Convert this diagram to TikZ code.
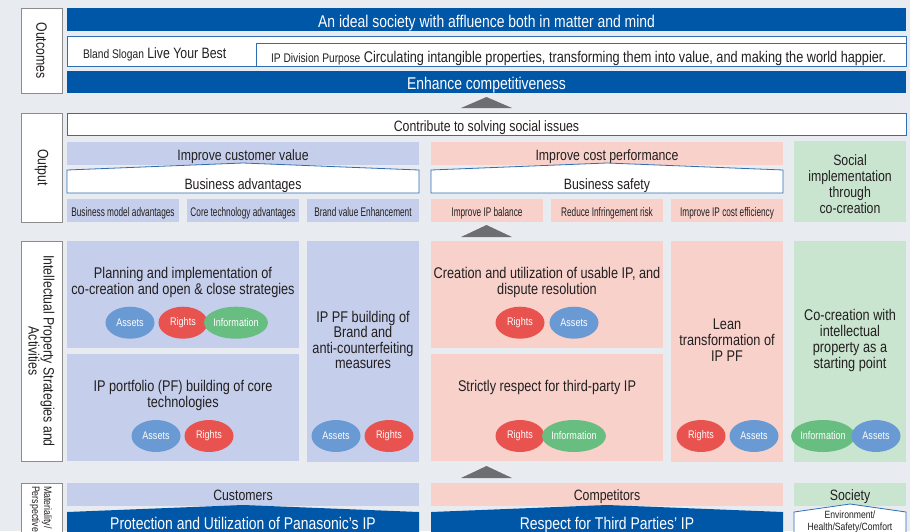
\documentclass[tikz,border=0pt]{standalone}
\usepackage{fontspec}
\setmainfont{Liberation Sans}[FakeStretch=0.82]
\newfontfamily\tightfont{Liberation Sans}[FakeStretch=0.66]
\usetikzlibrary{shapes.geometric}
\newcommand\setfs[2]{\fontsize{#1}{#2}\selectfont}
\definecolor{bgc}{HTML}{E8ECF0}
\definecolor{navy}{HTML}{0057A8}
\definecolor{lav}{HTML}{C5CFEB}
\definecolor{pnk}{HTML}{F8D1CB}
\definecolor{mint}{HTML}{C9E5CF}
\definecolor{ink}{HTML}{231F20}
\definecolor{edge}{HTML}{2F6DB5}
\definecolor{labedge}{HTML}{8C8C8C}
\definecolor{tri}{HTML}{6D6E71}
\definecolor{cAssets}{HTML}{6A9AD3}
\definecolor{cRights}{HTML}{E9534F}
\definecolor{cInfo}{HTML}{68BE80}
% rectangle node from its top-left and bottom-right corners
\newcommand\boxnode[6]{%
  \node[#2, anchor=north west, minimum width={(#5-#3)*1pt}, minimum height={(#6-#4)*1pt}] (#1) at (#3,#4) {};}
\begin{document}
\begin{tikzpicture}[x=1pt, y=-1pt,
  every node/.append style={inner sep=0pt, outer sep=0pt},
  labelbox/.style={fill=white, draw=labedge, line width=0.9pt},
  bar/.style={fill=navy},
  wbox/.style={fill=white, draw=edge, line width=0.8pt},
  lavbox/.style={fill=lav},
  pnkbox/.style={fill=pnk},
  mintbox/.style={fill=mint},
  txt/.style={text=ink, font=\setfs{15}{16}, anchor=base, align=center},
  bigtxt/.style={text=white, font=\setfs{17}{18}, anchor=base},
  actxt/.style={text=ink, font=\setfs{15.5}{16}, anchor=base, align=center},
  tinytxt/.style={text=ink, font=\tightfont\setfs{12.5}{14}, anchor=base},
  pill/.style={ellipse, minimum width=49pt, minimum height=32pt, text=white, font=\setfs{11}{12}},
  assets/.style={pill, fill=cAssets},
  rights/.style={pill, fill=cRights},
  info/.style={pill, fill=cInfo},
  side/.style={text=ink, rotate=-90, align=center, font=\setfs{15}{15}},
  uptri/.style={fill=tri}]
\useasboundingbox (0,0) rectangle (910,531);
\clip (0,0) rectangle (910,531);
\fill[bgc] (0,0) rectangle (910,531);
% note: a multi-line node's base anchor sits on its last line

% ---------- Outcomes ----------
\boxnode{labOut}{labelbox}{21}{8}{62}{93}
\node[side] (tOut) at (labOut.center) {Outcomes};
\boxnode{ideal}{bar}{67}{8}{906}{31}
\node[bigtxt] (tIdeal) at (486.5,27) {An ideal society with affluence both in matter and mind};
\boxnode{slogan}{wbox}{67}{36}{906}{66}
\boxnode{purpose}{wbox}{256}{43}{906}{66}
\node[txt, anchor=base west] (tSlogan) at (83,58) {{\setfs{12.5}{14}Bland Slogan} Live Your Best};
\node[txt, anchor=base west, font=\setfs{15.5}{16}] (tPurpose) at (271,62.5) {{\setfs{12.5}{14}IP Division Purpose} Circulating intangible properties, transforming them into value, and making the world happier.};
\boxnode{enhance}{bar}{67}{71}{906}{93}
\node[bigtxt] (tEnh) at (486.5,89) {Enhance competitiveness};
\fill[uptri] (461,108) -- (486.5,97) -- (512,108) -- cycle;

% ---------- Output ----------
\boxnode{labOutput}{labelbox}{21}{113}{62}{222}
\node[side] (tOutput) at (labOutput.center) {Output};
\boxnode{contrib}{wbox}{67}{113}{906}{135}
\node[txt] (tContrib) at (486.5,131) {Contribute to solving social issues};

\boxnode{custval}{lavbox}{67}{142}{419}{165}
\node[txt] (tCustval) at (243,160) {Improve customer value};
\filldraw[wbox] (67,193) -- (67,170) -- (243,163) -- (419,170) -- (419,193) -- cycle;
\node[txt] (tBizAdv) at (243,189) {Business advantages};
\boxnode{bm}{lavbox}{67}{199}{179}{222}
\boxnode{ct}{lavbox}{187}{199}{299}{222}
\boxnode{bv}{lavbox}{307}{199}{419}{222}
\node[tinytxt] (tBm) at (123,216.5) {Business model advantages};
\node[tinytxt] (tCt) at (243,216.5) {Core technology advantages};
\node[tinytxt] (tBv) at (363,216.5) {Brand value Enhancement};

\boxnode{costperf}{pnkbox}{431}{142}{783}{165}
\node[txt] (tCostperf) at (607,160) {Improve cost performance};
\filldraw[wbox] (431,193) -- (431,170) -- (607,163) -- (783,170) -- (783,193) -- cycle;
\node[txt] (tSafety) at (607,189) {Business safety};
\boxnode{ipbal}{pnkbox}{431}{199}{543}{222}
\boxnode{infr}{pnkbox}{551}{199}{663}{222}
\boxnode{ipcost}{pnkbox}{671}{199}{783}{222}
\node[tinytxt] (tIpbal) at (487,216.5) {Improve IP balance};
\node[tinytxt] (tInfr) at (607,216.5) {Reduce Infringement risk};
\node[tinytxt] (tIpcost) at (727,216.5) {Improve IP cost efficiency};

\boxnode{socimpl}{mintbox}{794}{141}{906}{222}
\node[txt] (tSocimpl) at (850,213) {Social\\implementation\\through\\co-creation};

\fill[uptri] (461,237) -- (486.5,225) -- (512,237) -- cycle;

% ---------- Strategies and activities ----------
\boxnode{labStrat}{labelbox}{21}{241}{62}{461}
\node[side] (tStrat) at (labStrat.center) {Intellectual Property Strategies and\\Activities};

\boxnode{plan}{lavbox}{67}{241}{299}{348}
\node[actxt, font=\setfs{15.5}{16.3}] (tPlan) at (183,294.3) {Planning and implementation of\\co-creation and open \& close strategies};
\node[assets] (planA) at (130,322.7) {Assets};
\node[rights] (planR) at (183,322.7) {Rights};
\node[info] (planI) at (236,322.7) {Information};

\boxnode{port}{lavbox}{67}{354}{299}{461}
\node[actxt] (tPort) at (183,407) {IP portfolio (PF) building of core\\technologies};
\node[assets] (portA) at (156,436) {Assets};
\node[rights] (portR) at (209,436) {Rights};

\boxnode{brand}{lavbox}{307}{241}{419}{462}
\node[actxt, font=\setfs{15.5}{15.5}] (tBrand) at (363,368.5) {IP PF building of\\Brand and\\anti-counterfeiting\\measures};
\node[assets] (brandA) at (336,436) {Assets};
\node[rights] (brandR) at (389,436) {Rights};

\boxnode{creat}{pnkbox}{431}{241}{663}{348}
\node[actxt, font=\setfs{15.5}{16.3}] (tCreat) at (547,294.3) {Creation and utilization of usable IP, and\\dispute resolution};
\node[rights] (creatR) at (520,322.7) {Rights};
\node[assets] (creatA) at (574,322.7) {Assets};

\boxnode{strict}{pnkbox}{431}{354}{663}{461}
\node[actxt] (tStrict) at (547,391) {Strictly respect for third-party IP};
\node[rights] (strictR) at (520,436) {Rights};
\node[info] (strictI) at (574,436) {Information};

\boxnode{lean}{pnkbox}{671}{241}{783}{462}
\node[actxt] (tLean) at (727,361) {Lean\\transformation of\\IP PF};
\node[rights] (leanR) at (701,436) {Rights};
\node[assets] (leanA) at (754,436) {Assets};

\boxnode{cocre}{mintbox}{794}{241}{906}{462}
\node[actxt, font=\setfs{15.5}{15.7}] (tCocre) at (850,368) {Co-creation with\\intellectual\\property as a\\starting point};
\node[info] (cocreI) at (823,436) {Information};
\node[assets] (cocreA) at (876,436) {Assets};

\fill[uptri] (461,478) -- (486.5,466) -- (512,478) -- cycle;

% ---------- Materiality / perspectives ----------
\boxnode{labMat}{labelbox}{21}{483}{62}{560}
\node[side, anchor=west, align=left, font=\setfs{10.8}{12}] (tMat) at (41,486) {Materiality/\\Perspectives};

\boxnode{cust}{lavbox}{67}{483}{419}{506}
\node[txt] (tCust) at (243,500.7) {Customers};
\fill[navy] (67,545) -- (67,512) -- (243,505) -- (419,512) -- (419,545) -- cycle;
\node[bigtxt] (tProt) at (243,529.5) {Protection and Utilization of Panasonic’s IP};

\boxnode{comp}{pnkbox}{431}{483}{783}{506}
\node[txt] (tComp) at (607,500.7) {Competitors};
\fill[navy] (431,545) -- (431,512) -- (607,505) -- (783,512) -- (783,545) -- cycle;
\node[bigtxt] (tResp) at (607,529.5) {Respect for Third Parties’ IP};

\boxnode{soc}{mintbox}{794}{483}{906}{506}
\node[txt] (tSoc) at (850,500.7) {Society};
\filldraw[wbox] (794,545) -- (794,512) -- (850,504) -- (906,512) -- (906,545) -- cycle;
\node[txt, font=\setfs{10.5}{12}] (tEnv) at (850,530.5) {Environment/\\Health/Safety/Comfort};
\end{tikzpicture}
\end{document}
